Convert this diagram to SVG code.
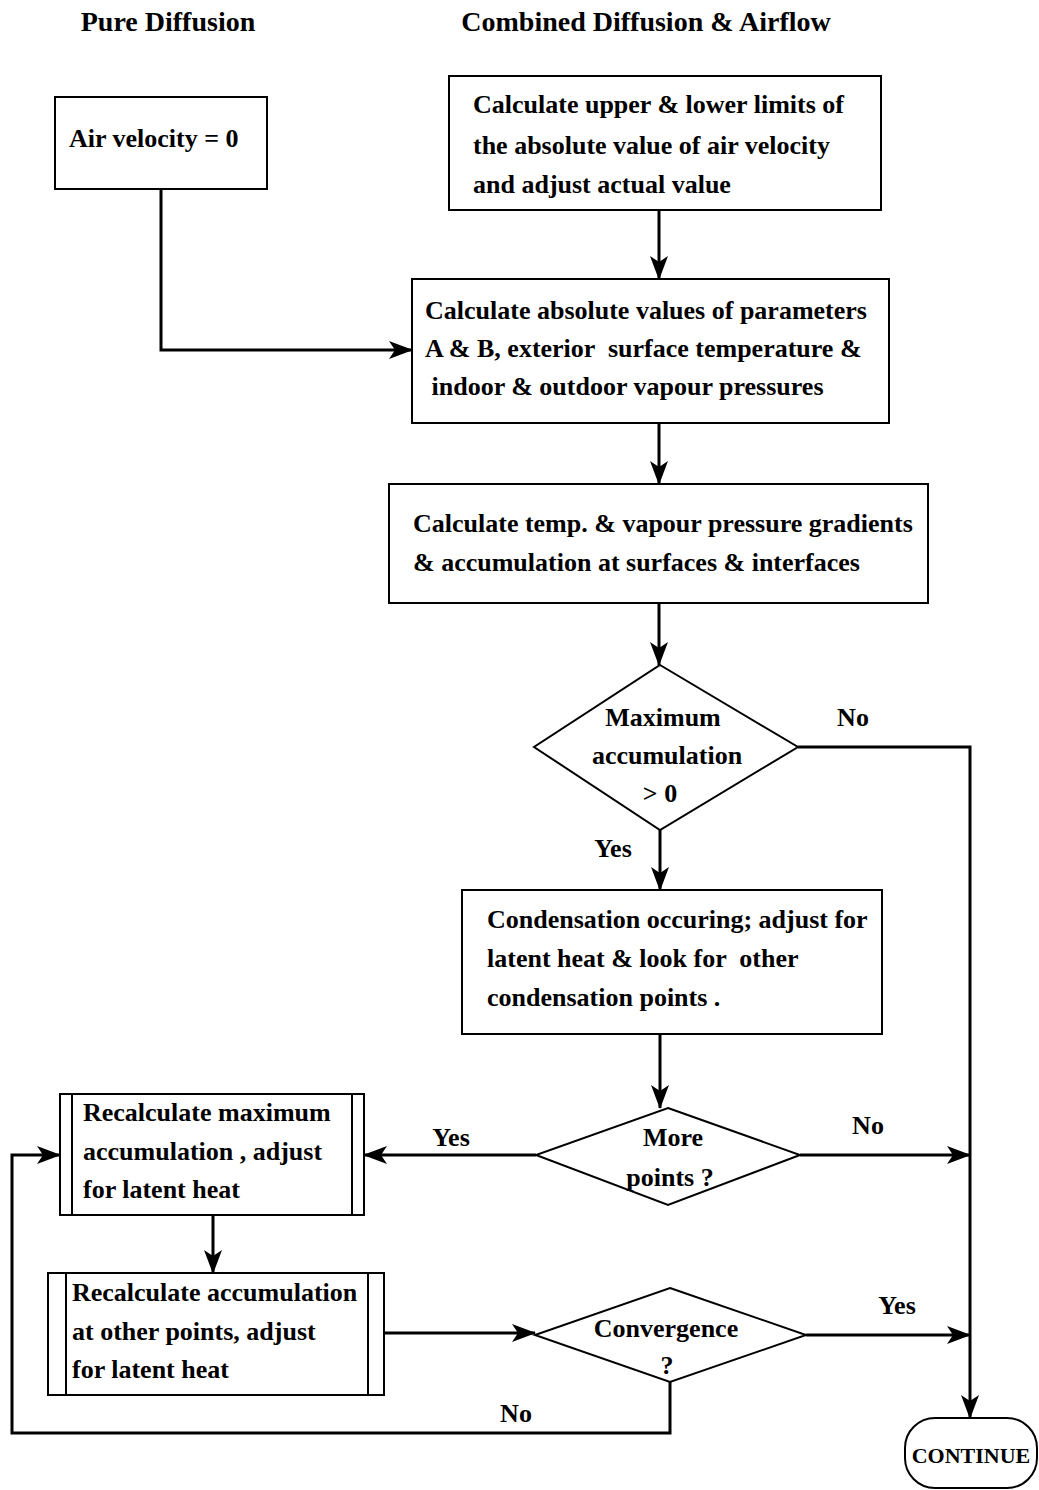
<svg xmlns="http://www.w3.org/2000/svg" width="1039" height="1490" viewBox="0 0 1039 1490">
<style>
text{font-family:"Liberation Serif","Times New Roman",serif;font-size:26px;font-weight:bold;fill:#000;white-space:pre}
.hd{font-size:28px;text-anchor:middle}
.c{text-anchor:middle}
.box{fill:#fff;stroke:#000;stroke-width:2}
.ln{fill:none;stroke:#000;stroke-width:3}
.in{stroke:#000;stroke-width:2}
</style>
<defs>
<marker id="ah" viewBox="0 0 24 18" refX="23" refY="9" markerWidth="24" markerHeight="18" markerUnits="userSpaceOnUse" orient="auto">
<path d="M0,0 L24,9 L0,18 L6,9 z" fill="#000"/>
</marker>
</defs>
<rect width="1039" height="1490" fill="#fff"/>
<text class="hd" x="168" y="31">Pure Diffusion</text>
<text class="hd" x="646" y="31">Combined Diffusion &amp; Airflow</text>

<g id="connectors">
<path class="ln" d="M161,189 V350 H412" marker-end="url(#ah)"/>
<path class="ln" d="M659,210 V279" marker-end="url(#ah)"/>
<path class="ln" d="M659,423 V484" marker-end="url(#ah)"/>
<path class="ln" d="M659,603 V665" marker-end="url(#ah)"/>
<path class="ln" d="M660,830 V890" marker-end="url(#ah)"/>
<path class="ln" d="M798,747 H970 V1418" marker-end="url(#ah)"/>
<path class="ln" d="M660,1034 V1108" marker-end="url(#ah)"/>
<path class="ln" d="M536,1155 H364" marker-end="url(#ah)"/>
<path class="ln" d="M800,1155 H970" marker-end="url(#ah)"/>
<path class="ln" d="M213,1215 V1273" marker-end="url(#ah)"/>
<path class="ln" d="M384,1333 H535" marker-end="url(#ah)"/>
<path class="ln" d="M806,1335 H970" marker-end="url(#ah)"/>
<path class="ln" d="M670,1382 V1433 H12 V1155 H60" marker-end="url(#ah)"/>
<text x="853" y="726" class="c">No</text>
<text x="613" y="857" class="c">Yes</text>
<text x="451" y="1146" class="c">Yes</text>
<text x="868" y="1134" class="c">No</text>
<text x="897" y="1314" class="c">Yes</text>
<text x="516" y="1422" class="c">No</text>
</g>

<g id="n-air">
<rect class="box" x="55" y="97" width="212" height="92"/>
<text x="69" y="147">Air velocity = 0</text>
</g>

<g id="n-limits">
<rect class="box" x="449" y="76" width="432" height="134"/>
<text x="473" y="113">Calculate upper &amp; lower limits of</text>
<text x="473" y="154">the absolute value of air velocity</text>
<text x="473" y="193">and adjust actual value</text>
</g>

<g id="n-params">
<rect class="box" x="412" y="279" width="477" height="144"/>
<text x="425" y="319">Calculate absolute values of parameters</text>
<text x="425" y="357">A &amp; B, exterior  surface temperature &amp;</text>
<text x="425" y="395"> indoor &amp; outdoor vapour pressures</text>
</g>

<g id="n-gradients">
<rect class="box" x="389" y="484" width="539" height="119"/>
<text x="413" y="532">Calculate temp. &amp; vapour pressure gradients</text>
<text x="413" y="571">&amp; accumulation at surfaces &amp; interfaces</text>
</g>

<g id="n-maxacc">
<polygon class="box" points="660,665 798,747 660,830 534,747"/>
<text x="663" y="726" class="c">Maximum</text>
<text x="667" y="764" class="c">accumulation</text>
<text x="660" y="802" class="c">&gt; 0</text>
</g>

<g id="n-condensation">
<rect class="box" x="462" y="890" width="420" height="144"/>
<text x="487" y="928">Condensation occuring; adjust for</text>
<text x="487" y="967">latent heat &amp; look for  other</text>
<text x="487" y="1006">condensation points .</text>
</g>

<g id="n-more">
<polygon class="box" points="668,1108 800,1155 668,1205 536,1155"/>
<text x="673" y="1146" class="c">More</text>
<text x="670" y="1186" class="c">points ?</text>
</g>

<g id="n-recalcmax">
<rect class="box" x="60" y="1094" width="304" height="121"/>
<line class="in" x1="72" y1="1094" x2="72" y2="1215"/>
<line class="in" x1="352" y1="1094" x2="352" y2="1215"/>
<text x="83" y="1121">Recalculate maximum</text>
<text x="83" y="1160">accumulation , adjust</text>
<text x="83" y="1198">for latent heat</text>
</g>

<g id="n-recalcother">
<rect class="box" x="48" y="1273" width="336" height="122"/>
<line class="in" x1="66" y1="1273" x2="66" y2="1395"/>
<line class="in" x1="368" y1="1273" x2="368" y2="1395"/>
<text x="72" y="1301">Recalculate accumulation</text>
<text x="72" y="1340">at other points, adjust</text>
<text x="72" y="1378">for latent heat</text>
</g>

<g id="n-convergence">
<polygon class="box" points="670,1288 806,1335 670,1382 535,1335"/>
<text x="666" y="1337" class="c">Convergence</text>
<text x="667" y="1374" class="c">?</text>
</g>

<g id="n-continue">
<rect class="box" x="905" y="1418" width="132" height="70" rx="30" ry="30"/>
<text x="971" y="1463" class="c" style="font-size:22px">CONTINUE</text>
</g>
</svg>
